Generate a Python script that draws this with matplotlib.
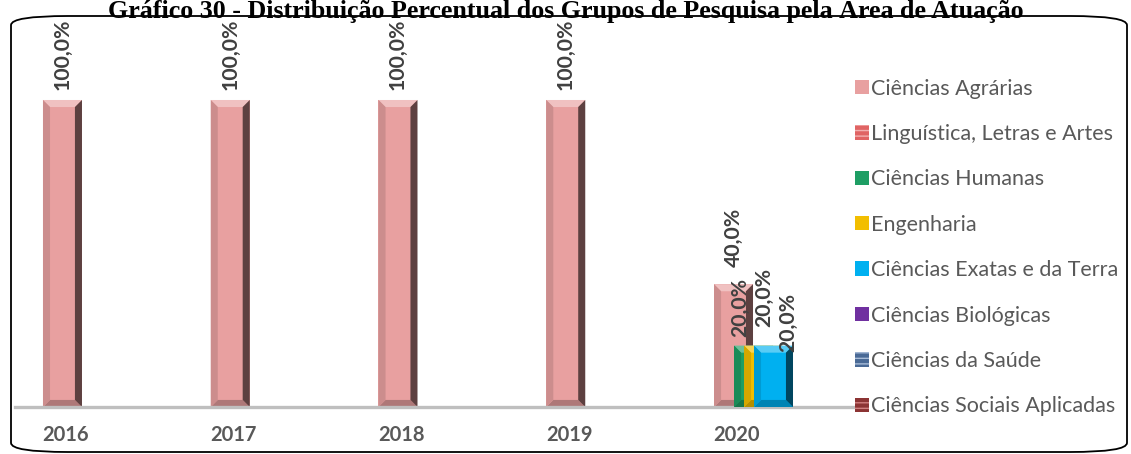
import matplotlib
matplotlib.use("Agg")
import matplotlib.pyplot as plt
from matplotlib.patches import FancyBboxPatch, Polygon
from matplotlib.colors import to_rgb

# Dados
anos = ["2016", "2017", "2018", "2019", "2020"]
areas = ["Ciências Agrárias", "Linguística, Letras e Artes", "Ciências Humanas",
         "Engenharia", "Ciências Exatas e da Terra", "Ciências Biológicas",
         "Ciências da Saúde", "Ciências Sociais Aplicadas"]
agrarias = [100, 100, 100, 100, 40]
linguistica = [0, 0, 0, 0, 0]
humanas = [0, 0, 0, 0, 20]
engenharia = [0, 0, 0, 0, 20]
exatas = [0, 0, 0, 0, 20]
biologicas = [0, 0, 0, 0, 0]
saude = [0, 0, 0, 0, 0]
sociais = [0, 0, 0, 0, 0]
valores = [agrarias, linguistica, humanas, engenharia, exatas, biologicas, saude, sociais]

cores = ["#E8A0A0", "#E06464", "#1E9E64", "#F2BE00", "#00B0F0", "#7030A0", "#4A6A96", "#8C3434"]
hachuras = [None, "---", None, None, None, None, "---", "---"]
cor_hachura = ["#8E5656", "#F2B0B0", "#0B5A36", "#9A7800", "#004E78", "#3A1260", "#A8BCD8", "#D08080"]

# deslocamento dos rotulos (px) -- alguns foram movidos a mao no original
desloc = {(0, 4): (0, 17), (2, 4): (-13, 9), (3, 4): (1, 19), (4, 4): (15, -6)}


def mistura(c, alvo, f):
    c = to_rgb(c)
    return tuple(a + (b - a) * f for a, b in zip(c, alvo))


def chanfro(ax, x, w, h, cor, z):
    # efeito "bisel" das barras do excel
    bx, by = 0.042, 2.3
    x0, x1 = x - w / 2, x + w / 2
    partes = [
        ([(x0, h), (x1, h), (x1 - bx, h - by), (x0 + bx, h - by)], mistura(cor, (1, 1, 1), 0.35)),
        ([(x0, 0), (x1, 0), (x1 - bx, by), (x0 + bx, by)], mistura(cor, (0, 0, 0), 0.25)),
        ([(x0, 0), (x0, h), (x0 + bx, h - by), (x0 + bx, by)], mistura(cor, (0, 0, 0), 0.12)),
        ([(x1, 0), (x1, h), (x1 - bx, h - by), (x1 - bx, by)], mistura(cor, (0, 0, 0), 0.6)),
    ]
    for pts, c in partes:
        ax.add_patch(Polygon(pts, closed=True, facecolor=c, edgecolor="none", zorder=z + 0.1))


fig = plt.figure(figsize=(11.31, 4.54), dpi=100)
ax = fig.add_axes([15 / 1131, 1 - 407 / 454, (860 - 15) / 1131, (407 - 30) / 454])

passo = 0.0596
largura = 0.2325
for j, serie in enumerate(valores):
    xs = [i + j * passo for i in range(len(anos))]
    ax.bar(xs, serie, width=largura, color=cores[j], edgecolor=cor_hachura[j],
           linewidth=0, hatch=hachuras[j], zorder=2 + j, label=areas[j])
    for i, v in enumerate(serie):
        if v == 0:
            continue
        chanfro(ax, xs[i], largura, v, cores[j], 2 + j)
        dx, dy = desloc.get((j, i), (0, 10))
        ax.annotate(f"{v:.1f}%".replace(".", ","), (xs[i], v),
                    xytext=(dx * 0.72, dy * 0.72), textcoords="offset points",
                    rotation=90, ha="center", va="bottom", fontsize=15.3,
                    fontweight="bold", color="#404040", family="Lato", zorder=20)

ax.set_xlim(-0.283, 4.754)
ax.set_ylim(0, 122.8)
ax.set_xticks([i + 0.02 for i in range(len(anos))])
ax.set_xticklabels(anos, fontsize=14.5, fontweight="bold", color="#595959", family="Lato")
ax.tick_params(axis="x", length=0, pad=13)
ax.set_yticks([])
for s in ["top", "left", "right"]:
    ax.spines[s].set_visible(False)
ax.spines["bottom"].set_color("#BFBFBF")
ax.spines["bottom"].set_linewidth(2.4)
ax.patch.set_alpha(0)

leg = fig.legend(loc="upper left", bbox_to_anchor=(846 / 1131, 1 - 70 / 454),
                 frameon=False, fontsize=15.5, handlelength=0.65, handleheight=0.65,
                 handletextpad=0.12, labelspacing=1.18, borderaxespad=0)
for t in leg.get_texts():
    t.set_color("#595959")
    t.set_family("Lato")

# moldura arredondada
moldura = FancyBboxPatch((11 / 1131, 2 / 454), 1116 / 1131, 436 / 454,
                         boxstyle="round,pad=0,rounding_size=0.05",
                         transform=fig.transFigure, fill=False,
                         edgecolor="black", linewidth=1.3, mutation_aspect=454 / 1131)
fig.patches.append(moldura)

fig.text(0.5, 1 - 18 / 454,
         "Gráfico 30 - Distribuição Percentual dos Grupos de Pesquisa pela Área de Atuação",
         ha="center", va="baseline", fontsize=18.7, fontweight="bold",
         family="Liberation Serif", color="black")

fig.savefig("out.png", dpi=100, facecolor="white")
